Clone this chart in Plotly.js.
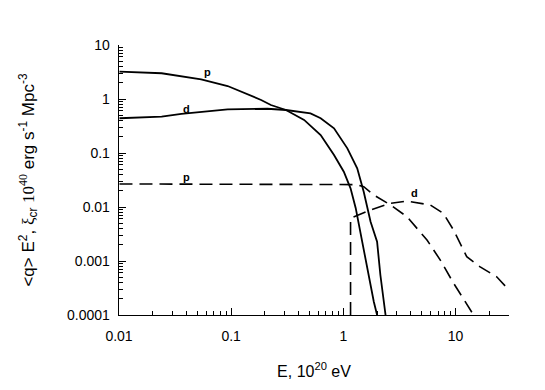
<!DOCTYPE html>
<html>
<head>
<meta charset="utf-8">
<script src="https://cdn.plot.ly/plotly-3.0.1.min.js"></script>
<style>
  html, body { margin: 0; padding: 0; background: #fff; }
  #chart { width: 545px; height: 390px; }
</style>
</head>
<body>
<div id="chart"></div>
<script>
// solid curves: protons (p) and deuterons (d)
const pSolidE = [0.0101, 0.024, 0.054, 0.093, 0.185, 0.226, 0.308, 0.447, 0.628, 0.826, 1.01, 1.16, 1.29, 1.43, 1.63, 1.87, 2.0];
const pSolidV = [3.2, 3.0, 2.3, 1.74, 0.96, 0.774, 0.625, 0.41, 0.215, 0.092, 0.045, 0.0222, 0.0095, 0.003, 0.00073, 0.000176, 0.0001];
const dSolidE = [0.0101, 0.024, 0.036, 0.066, 0.093, 0.211, 0.308, 0.51, 0.628, 0.826, 1.086, 1.33, 1.52, 1.75, 2.0, 2.14, 2.38];
const dSolidV = [0.44, 0.47, 0.53, 0.61, 0.64, 0.66, 0.625, 0.54, 0.44, 0.286, 0.122, 0.052, 0.0192, 0.00535, 0.00228, 0.00055, 0.0001];
// dashed curves
const pDashE = [0.0101, 1.1, 1.3, 1.52, 1.87, 2.63, 3.7, 5.57, 7.3, 9.6, 12.6, 14.5];
const pDashV = [0.0267, 0.0267, 0.026, 0.0238, 0.0167, 0.0109, 0.0066, 0.00245, 0.00105, 0.00039, 0.000165, 0.0001];
const dDashE = [1.16, 1.16, 1.75, 2.63, 3.7, 5.96, 7.8, 9.6, 12.6, 16.6, 23.3, 30];
const dDashV = [0.0001, 0.0062, 0.0088, 0.0117, 0.0129, 0.0109, 0.0076, 0.00375, 0.0012, 0.00078, 0.00051, 0.00029];

const xTickVals = [0.01, 0.1, 1, 10];
const xTickText = ['0.01', '0.1', '1', '10'];
const yTickVals = [0.0001, 0.001, 0.01, 0.1, 1, 10];
const yTickText = ['0.0001', '0.001', '0.01', '0.1', '1', '10'];
const minorDigits = [2, 3, 4, 5, 6, 7, 8, 9];

// curve labels
const labelText = ['p', 'd', 'p', 'd'];
const labelE = [0.062, 0.04, 0.04, 4.3];
const labelV = [3.2, 0.66, 0.036, 0.0185];

const solid = {color: '#000', width: 1.8};
const dashed = {color: '#000', width: 1.6, dash: '13px,7px'};

function minorVals(decades) {
  const out = [];
  decades.forEach(d => minorDigits.forEach(m => out.push(d * m)));
  return out;
}

const traces = [
  {x: pSolidE, y: pSolidV, mode: 'lines', line: solid},
  {x: dSolidE, y: dSolidV, mode: 'lines', line: solid},
  {x: pDashE, y: pDashV, mode: 'lines', line: dashed},
  {x: dDashE, y: dDashV, mode: 'lines', line: dashed}
];

const tickFont = {family: 'Liberation Sans, Arial, sans-serif', size: 14, color: '#000'};

const axisCommon = {
  type: 'log',
  showline: true,
  linecolor: '#000',
  linewidth: 1.3,
  showgrid: false,
  zeroline: false,
  ticks: 'inside',
  ticklen: 7,
  tickwidth: 1,
  tickcolor: '#000',
  tickmode: 'array',
  tickfont: tickFont
};

const layout = {
  width: 545,
  height: 390,
  margin: {l: 119, r: 36, t: 45, b: 75},
  paper_bgcolor: '#fff',
  plot_bgcolor: '#fff',
  showlegend: false,
  xaxis: Object.assign({}, axisCommon, {
    range: [Math.log10(0.01), Math.log10(30)],
    tickvals: xTickVals,
    ticktext: xTickText,
    ticklabelstandoff: 8,
    minor: {tickmode: 'array', tickvals: minorVals([0.01, 0.1, 1, 10]), ticks: 'inside', ticklen: 4, tickcolor: '#000', showgrid: false},
    title: {
      text: 'E, 10<sup>20</sup> eV',
      font: {family: 'Liberation Sans, Arial, sans-serif', size: 16, color: '#000'},
      standoff: 22
    }
  }),
  yaxis: Object.assign({}, axisCommon, {
    range: [-4, 1],
    tickvals: yTickVals,
    ticktext: yTickText,
    ticklabelstandoff: 5,
    minor: {tickmode: 'array', tickvals: minorVals([0.0001, 0.001, 0.01, 0.1, 1]), ticks: 'inside', ticklen: 4, tickcolor: '#000', showgrid: false},
    title: {
      text: '<q> E<sup>2</sup>, <span style="font-family:Liberation Serif, Times New Roman, serif">ξ</span><sub>cr</sub> <span style="font-family:Liberation Serif, Times New Roman, serif">10<sup>40</sup></span> erg s<sup>-1</sup> Mpc<sup>-3</sup>',
      font: {family: 'Liberation Sans, Arial, sans-serif', size: 17, color: '#000'},
      standoff: 28
    }
  }),
  annotations: labelText.map((t, i) => ({
    x: Math.log10(labelE[i]),
    y: Math.log10(labelV[i]),
    xref: 'x', yref: 'y',
    text: '<b>' + t + '</b>',
    showarrow: false,
    font: {family: 'Liberation Sans, Arial, sans-serif', size: 11, color: '#000'}
  }))
};

Plotly.newPlot('chart', traces, layout, {displayModeBar: false, staticPlot: true});
</script>
</body>
</html>
